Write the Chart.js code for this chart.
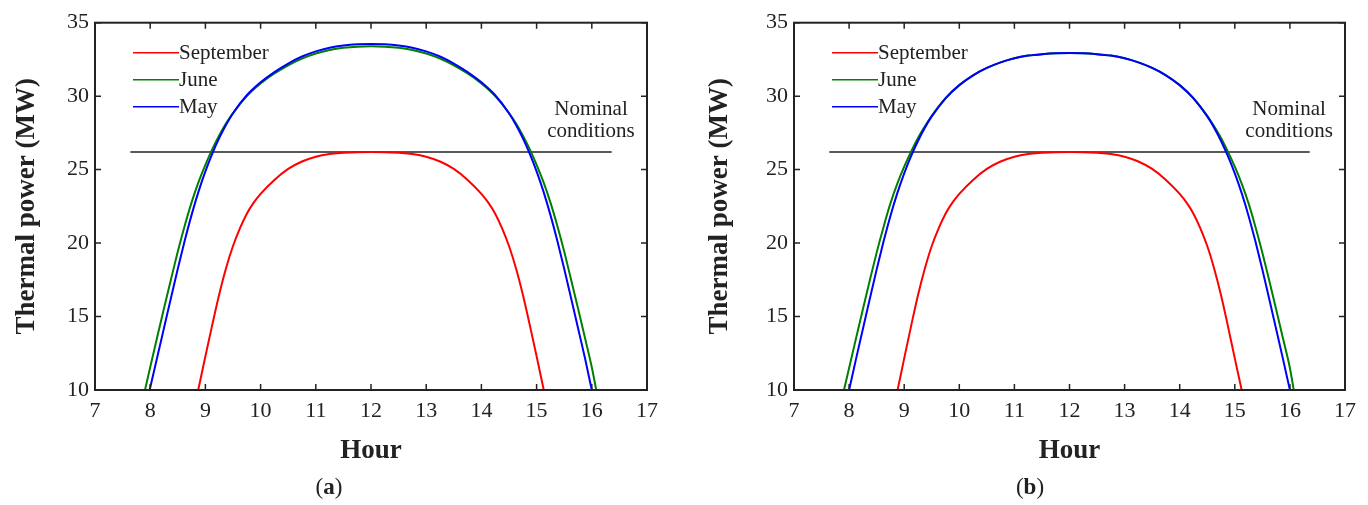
<!DOCTYPE html>
<html>
<head>
<meta charset="utf-8">
<title>Thermal power</title>
<script src="https://cdn.jsdelivr.net/npm/chart.js@4.4.0/dist/chart.umd.min.js"></script>
<style>
  html, body { margin: 0; padding: 0; background: #fff; }
  body { width: 1368px; height: 505px; position: relative; overflow: hidden; }
  .panel { position: absolute; top: 0; width: 684px; height: 505px; }
  .cap { position: absolute; top: 475px; width: 100px; text-align: center;
         font: 23px/23px "Liberation Serif", serif; color: #222; }
</style>
</head>
<body>
<div class="panel" style="left:0"><canvas id="chartA"></canvas></div>
<div class="panel" style="left:684px"><canvas id="chartB"></canvas></div>
<div class="cap" style="left:279px">(<b>a</b>)</div>
<div class="cap" style="left:980px">(<b>b</b>)</div>
<script>
// axis ticks
const hourTicks = [7, 8, 9, 10, 11, 12, 13, 14, 15, 16, 17];
const powerTicks = [10, 15, 20, 25, 30, 35];

// nominal conditions line
const nominalHours = [7.64, 16.36];
const nominalPower = [26.2, 26.2];

// panel (a)
const sepHoursA = [8.87, 9.0, 9.125, 9.25, 9.375, 9.5, 9.625, 9.75, 9.875, 10.0, 10.25, 10.5, 10.75, 11.0, 11.25, 11.5, 11.75, 12.0,
  12.25, 12.5, 12.75, 13.0, 13.25, 13.5, 13.75, 14.0, 14.125, 14.25, 14.375, 14.5, 14.625, 14.75, 14.875, 15.0, 15.13];
const sepPowerA = [10, 12.3, 14.45, 16.5, 18.3, 19.8, 21.0, 22.0, 22.75, 23.35, 24.3, 25.05, 25.55, 25.88, 26.06, 26.14, 26.19, 26.2,
  26.19, 26.14, 26.06, 25.88, 25.55, 25.05, 24.3, 23.35, 22.75, 22.0, 21.0, 19.8, 18.3, 16.5, 14.45, 12.3, 10];
const junHoursA = [7.906, 8.0, 8.125, 8.25, 8.375, 8.5, 8.625, 8.75, 8.875, 9.0, 9.125, 9.25, 9.375, 9.5, 9.75, 10.0, 10.25, 10.5, 10.75, 11.0, 11.25, 11.5, 11.75, 12.0,
  12.25, 12.5, 12.75, 13.0, 13.25, 13.5, 13.75, 14.0, 14.25, 14.5, 14.625, 14.75, 14.875, 15.0, 15.125, 15.25, 15.375, 15.5, 15.625, 15.75, 15.875, 16.0, 16.08];
const junPowerA = [10, 11.55, 13.57, 15.56, 17.51, 19.42, 21.18, 22.77, 24.15, 25.33, 26.4, 27.33, 28.15, 28.85, 30.0, 30.86, 31.54, 32.1, 32.56, 32.9, 33.14, 33.29, 33.37, 33.39,
  33.37, 33.29, 33.14, 32.9, 32.56, 32.1, 31.54, 30.86, 30.0, 28.85, 28.15, 27.33, 26.4, 25.33, 24.15, 22.77, 21.18, 19.42, 17.51, 15.56, 13.57, 11.55, 10];
const mayHoursA = [7.99, 8.125, 8.25, 8.375, 8.5, 8.625, 8.75, 8.875, 9.0, 9.125, 9.25, 9.375, 9.5, 9.75, 10.0, 10.25, 10.5, 10.75, 11.0, 11.25, 11.5, 11.75, 12.0,
  12.25, 12.5, 12.75, 13.0, 13.25, 13.5, 13.75, 14.0, 14.25, 14.5, 14.625, 14.75, 14.875, 15.0, 15.125, 15.25, 15.375, 15.5, 15.625, 15.75, 15.875, 16.0];
const mayPowerA = [10, 12.19, 14.22, 16.25, 18.25, 20.16, 21.92, 23.5, 24.88, 26.09, 27.14, 28.05, 28.84, 30.06, 30.94, 31.64, 32.22, 32.7, 33.05, 33.3, 33.45, 33.53, 33.55,
  33.53, 33.45, 33.3, 33.05, 32.7, 32.22, 31.64, 30.94, 30.06, 28.84, 28.05, 27.14, 26.09, 24.88, 23.5, 21.92, 20.16, 18.25, 16.25, 14.22, 12.19, 10];

// panel (b)
const sepHoursB = [8.88, 9.0, 9.125, 9.25, 9.375, 9.5, 9.625, 9.75, 9.875, 10.0, 10.25, 10.5, 10.75, 11.0, 11.25, 11.5, 11.75, 12.0,
  12.25, 12.5, 12.75, 13.0, 13.25, 13.5, 13.75, 14.0, 14.125, 14.25, 14.375, 14.5, 14.625, 14.75, 14.875, 15.0, 15.125];
const sepPowerB = [10, 12.15, 14.35, 16.45, 18.27, 19.8, 21.0, 22.0, 22.75, 23.35, 24.3, 25.05, 25.55, 25.88, 26.06, 26.14, 26.19, 26.2,
  26.19, 26.14, 26.06, 25.88, 25.55, 25.05, 24.3, 23.35, 22.75, 22.0, 21.0, 19.8, 18.27, 16.45, 14.35, 12.15, 10];
const junHoursB = [7.907, 8.0, 8.125, 8.25, 8.375, 8.5, 8.625, 8.75, 8.875, 9.0, 9.125, 9.25, 9.375, 9.5, 9.75, 10.0, 10.25, 10.5, 10.75, 11.0, 11.25, 11.5, 11.75, 12.0,
  12.25, 12.5, 12.75, 13.0, 13.25, 13.5, 13.75, 14.0, 14.25, 14.5, 14.625, 14.75, 14.875, 15.0, 15.125, 15.25, 15.375, 15.5, 15.625, 15.75, 15.875, 16.0, 16.07];
const junPowerB = [10, 11.5, 13.5, 15.5, 17.45, 19.35, 21.1, 22.7, 24.05, 25.2, 26.22, 27.15, 27.95, 28.66, 29.86, 30.75, 31.42, 31.92, 32.3, 32.58, 32.76, 32.86, 32.92, 32.93,
  32.92, 32.86, 32.76, 32.58, 32.3, 31.92, 31.42, 30.75, 29.86, 28.66, 27.95, 27.15, 26.22, 25.2, 24.05, 22.7, 21.1, 19.35, 17.45, 15.5, 13.5, 11.5, 10];
const mayHoursB = [8.0, 8.125, 8.25, 8.375, 8.5, 8.625, 8.75, 8.875, 9.0, 9.125, 9.25, 9.375, 9.5, 9.75, 10.0, 10.25, 10.5, 10.75, 11.0, 11.25, 11.5, 11.75, 12.0,
  12.25, 12.5, 12.75, 13.0, 13.25, 13.5, 13.75, 14.0, 14.25, 14.5, 14.625, 14.75, 14.875, 15.0, 15.125, 15.25, 15.375, 15.5, 15.625, 15.75, 15.875, 16.0];
const mayPowerB = [10, 12.1, 14.15, 16.2, 18.2, 20.1, 21.85, 23.4, 24.75, 25.92, 26.95, 27.85, 28.62, 29.85, 30.75, 31.42, 31.92, 32.3, 32.58, 32.76, 32.86, 32.92, 32.93,
  32.92, 32.86, 32.76, 32.58, 32.3, 31.92, 31.42, 30.75, 29.85, 28.62, 27.85, 26.95, 25.92, 24.75, 23.4, 21.85, 20.1, 18.2, 16.2, 14.15, 12.1, 10];

const FONT = '"Liberation Serif", "Times New Roman", serif';
Chart.defaults.font.family = FONT;
Chart.defaults.color = '#222';

const pts = (hs, ps) => hs.map((h, i) => ({ x: h, y: ps[i] }));

// box around the plot with inward ticks on all four sides
const frameTicks = {
  id: 'frameTicks',
  afterDraw(chart) {
    const { ctx, chartArea: a, scales: { x, y } } = chart;
    ctx.save();
    ctx.strokeStyle = '#222';
    ctx.lineWidth = 1.5;
    ctx.beginPath();
    x.ticks.forEach(t => {
      const px = x.getPixelForValue(t.value);
      ctx.moveTo(px, a.bottom); ctx.lineTo(px, a.bottom - 6);
      ctx.moveTo(px, a.top); ctx.lineTo(px, a.top + 6);
    });
    y.ticks.forEach(t => {
      const py = y.getPixelForValue(t.value);
      ctx.moveTo(a.left, py); ctx.lineTo(a.left + 6, py);
      ctx.moveTo(a.right, py); ctx.lineTo(a.right - 6, py);
    });
    ctx.stroke();
    ctx.lineWidth = 2;
    ctx.strokeRect(a.left, a.top, a.right - a.left, a.bottom - a.top);
    ctx.restore();
  }
};

// legend drawn inside the plot, top left
const insideLegend = {
  id: 'insideLegend',
  afterDatasetsDraw(chart) {
    const { ctx, chartArea: a } = chart;
    ctx.save();
    ctx.font = '21px ' + FONT;
    ctx.textBaseline = 'middle';
    let row = 0;
    chart.data.datasets.forEach(ds => {
      if (!ds.inLegend) return;
      const y = a.top + 30 + row * 27;
      ctx.strokeStyle = ds.borderColor;
      ctx.lineWidth = 1.6;
      ctx.beginPath();
      ctx.moveTo(a.left + 38, y);
      ctx.lineTo(a.left + 84, y);
      ctx.stroke();
      ctx.fillStyle = '#222';
      ctx.fillText(ds.label, a.left + 84, y + 1);
      row++;
    });
    ctx.restore();
  }
};

// "Nominal conditions" note
const nominalNote = {
  id: 'nominalNote',
  afterDatasetsDraw(chart, args, opts) {
    const { ctx, scales: { x, y } } = chart;
    ctx.save();
    ctx.font = '21px ' + FONT;
    ctx.fillStyle = '#222';
    ctx.textAlign = 'center';
    ctx.textBaseline = 'alphabetic';
    opts.lines.forEach(([txt, v]) => {
      ctx.fillText(txt, x.getPixelForValue(opts.hour), y.getPixelForValue(v));
    });
    ctx.restore();
  }
};

function makeChart(id, sep, jun, may, lay) {
  const line = (label, data, color, order, inLegend) => ({
    label, data, borderColor: color, backgroundColor: color,
    borderWidth: 2, pointRadius: 0, fill: false,
    cubicInterpolationMode: 'monotone', order, inLegend
  });
  return new Chart(document.getElementById(id), {
    type: 'line',
    data: {
      datasets: [
        line('September', sep, '#ff0000', 2, true),
        line('June', jun, '#008000', 1, true),
        line('May', may, '#0000ff', 0, true),
        { label: 'Nominal', data: pts(nominalHours, nominalPower), borderColor: '#222',
          borderWidth: 1.6, pointRadius: 0, order: 3, inLegend: false }
      ]
    },
    options: {
      responsive: true,
      maintainAspectRatio: false,
      animation: false,
      events: [],
      layout: { padding: { left: lay.left, right: lay.right, top: 22.7, bottom: 40.5 } },
      plugins: {
        legend: { display: false },
        tooltip: { enabled: false },
        nominalNote: { hour: 15.985, lines: [['Nominal', 28.73], ['conditions', 27.25]] }
      },
      scales: {
        x: {
          type: 'linear', min: 7, max: 17,
          afterBuildTicks: s => { s.ticks = hourTicks.map(v => ({ value: v })); },
          afterFit: s => { s.height = 74.5; },
          grid: { display: false, drawTicks: false },
          border: { display: false },
          ticks: { font: { size: 22 }, padding: 8, maxRotation: 0, autoSkip: false },
          title: { display: true, text: 'Hour', padding: 0,
                   font: { size: 27, weight: 'bold', lineHeight: 1 } }
        },
        y: {
          type: 'linear', min: 10, max: 35,
          afterBuildTicks: s => { s.ticks = powerTicks.map(v => ({ value: v })); },
          afterFit: s => { s.width = lay.yWidth; },
          grid: { display: false, drawTicks: false },
          border: { display: false },
          ticks: { font: { size: 22 }, padding: 6 },
          title: { display: true, text: 'Thermal power (MW)', padding: 0,
                   font: { size: 27, weight: 'bold', lineHeight: 1 } }
        }
      }
    },
    plugins: [frameTicks, insideLegend, nominalNote]
  });
}

makeChart('chartA', pts(sepHoursA, sepPowerA), pts(junHoursA, junPowerA), pts(mayHoursA, mayPowerA),
  { left: 13.5, right: 37, yWidth: 81.5 });
makeChart('chartB', pts(sepHoursB, sepPowerB), pts(junHoursB, junPowerB), pts(mayHoursB, mayPowerB),
  { left: 22.5, right: 23, yWidth: 87.5 });
</script>
</body>
</html>
